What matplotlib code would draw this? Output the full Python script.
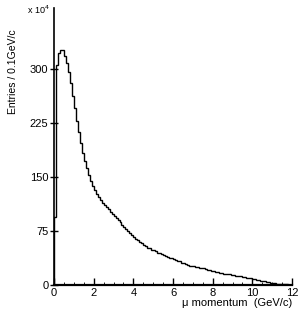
import numpy as np
import matplotlib
matplotlib.use('Agg')
import matplotlib.pyplot as plt

plt.rcParams['font.family'] = ['Liberation Sans', 'DejaVu Sans']

# bin edges, 0.1 GeV/c wide
edges = np.round(np.arange(0, 12.01, 0.1), 2)

# entries per bin (x10^4)
counts = [
    94, 305, 322, 326, 327, 318, 308, 296, 280, 262,
    246, 228, 212, 198, 184, 172, 162, 153, 145, 138,
    132, 127, 122, 118, 114, 111, 108, 105, 102, 99,
    96, 93, 90, 87, 84, 81, 78, 75, 72, 69,
    67, 64, 62, 60, 58, 56, 54, 52, 51, 49,
    48, 47, 45, 44, 43, 42, 40, 39, 38, 37,
    36, 35, 34, 33, 31, 30, 29, 28, 27, 27,
    26, 25, 25, 24, 23, 23, 22, 21, 21, 20,
    19, 18, 18, 17, 17, 16, 16, 15, 15, 14,
    14, 13, 13, 12, 12, 11, 11, 10, 10, 10,
    9, 8, 7, 7, 6, 5, 5, 4, 4, 3,
    3, 3, 2, 2, 2, 1, 1, 1, 0, 0,
]

xticks = [0, 2, 4, 6, 8, 10, 12]
yticks = [0, 75, 150, 225, 300]

fig = plt.figure(figsize=(3.02, 3.16), dpi=100)
ax = fig.add_axes([0.179, 0.098, 0.788, 0.877])

ax.stairs(counts, edges, color='black', linewidth=1.0)

ax.set_xlim(0, 12)
ax.set_ylim(0, 385)
ax.set_xticks(xticks)
ax.set_yticks(yticks)
ax.set_xticks(np.arange(0, 12.01, 0.5), minor=True)

for s in ['top', 'right']:
    ax.spines[s].set_visible(False)
ax.spines['left'].set_linewidth(1.2)
ax.spines['bottom'].set_linewidth(1.6)

ax.tick_params(axis='x', direction='in', length=5, width=1, labelsize=8, pad=2)
ax.tick_params(axis='x', which='minor', direction='in', length=2, width=0.6)
ax.tick_params(axis='y', direction='inout', length=6, width=1, labelsize=8, pad=1)

ax.set_ylabel('Entries / 0.1GeV/c', fontsize=7.5)
ax.yaxis.set_label_coords(-0.15, 0.77)
ax.set_xlabel('\u03bc momentum  (GeV/c)', fontsize=8)
ax.xaxis.set_label_coords(1.0, -0.045)
ax.xaxis.label.set_horizontalalignment('right')

fig.text(0.09, 0.955, 'x 10$^4$', fontsize=6.5)

fig.savefig('out.png', dpi=100)
